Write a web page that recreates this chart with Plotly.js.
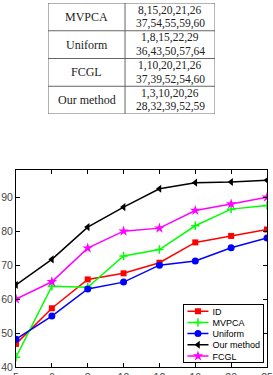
<!DOCTYPE html>
<html>
<head>
<meta charset="utf-8">
<script src="https://cdn.plot.ly/plotly-3.0.1.min.js"></script>
<style>
  html, body { margin: 0; padding: 0; background: #fff; }
  #chart { width: 273px; height: 375px; }
</style>
</head>
<body>
<div id="chart"></div>
<script>
// Number of selected bands (x axis categories)
const bandCounts = ['5', '6', '8', '10', '12', '16', '20', '25'];

// Accuracy (%) of each method
const idAcc      = [46.8, 57.3, 65.8, 67.6, 70.7, 76.7, 78.6, 80.5];
const mvpcaAcc   = [42.9, 63.8, 63.5, 72.7, 74.6, 81.6, 86.5, 87.6];
const uniformAcc = [48.2, 55.0, 63.0, 65.0, 70.0, 71.2, 75.1, 78.0];
const oursAcc    = [64.2, 71.7, 81.2, 87.1, 92.5, 94.3, 94.5, 95.0];
const fcglAcc    = [60.0, 65.1, 75.0, 80.0, 80.9, 86.1, 88.0, 90.0];

// Table of selected band indices per method (two lines per cell)
const tableMethods = ['MVPCA', 'Uniform', 'FCGL', 'Our method'];
const tableBands = [
  ['8,15,20,21,26', '37,54,55,59,60'],
  ['1,8,15,22,29', '36,43,50,57,64'],
  ['1,10,20,21,26', '37,39,52,54,60'],
  ['1,3,10,20,26', '28,32,39,52,59']
];

const series = [
  {name: 'ID',         y: idAcc,      color: '#ff0000', symbol: 'square',          size: 6},
  {name: 'MVPCA',      y: mvpcaAcc,   color: '#00ff00', symbol: 'cross-thin-open', size: 6},
  {name: 'Uniform',    y: uniformAcc, color: '#0000ff', symbol: 'circle',          size: 7},
  {name: 'Our method', y: oursAcc,    color: '#000000', symbol: 'triangle-left',   size: 7},
  {name: 'FCGL',       y: fcglAcc,    color: '#ff00ff', symbol: 'star',            size: 8}
];

const traces = series.map(s => ({
  type: 'scatter',
  mode: 'lines+markers',
  name: s.name,
  x: bandCounts,
  y: s.y,
  xaxis: 'x',
  yaxis: 'y',
  line: {color: s.color, width: 1.5},
  marker: {color: s.color, symbol: s.symbol, size: s.size,
           line: {color: s.color, width: s.symbol === 'cross-thin-open' ? 1.5 : 0}}
}));

// Table drawn on its own hidden axes: x in pixels across, y in rows
const colSplit = 77, tableW = 167;
const lineOffset = 0.24;
const shapes = [];
const annotations = [];
const nRows = tableMethods.length;
const gridLine = {color: '#666', width: 1};
shapes.push({type: 'rect', xref: 'x2', yref: 'y2', x0: 0, x1: tableW, y0: 0, y1: nRows, line: gridLine});
shapes.push({type: 'line', xref: 'x2', yref: 'y2', x0: colSplit, x1: colSplit, y0: 0, y1: nRows, line: gridLine});
for (let i = 1; i < nRows; i++) {
  shapes.push({type: 'line', xref: 'x2', yref: 'y2', x0: 0, x1: tableW, y0: i, y1: i, line: gridLine});
}
const nameFont = {family: 'Liberation Serif', size: 12, color: '#222'};
const bandFont = {family: 'Liberation Serif', size: 11.5, color: '#222'};
tableMethods.forEach((m, i) => {
  const yc = nRows - i - 0.5;
  annotations.push({xref: 'x2', yref: 'y2', x: colSplit / 2, y: yc, text: m,
    showarrow: false, font: nameFont, xanchor: 'center', yanchor: 'middle'});
  tableBands[i].forEach((line, j) => {
    annotations.push({xref: 'x2', yref: 'y2', x: (colSplit + tableW) / 2,
      y: yc + (j === 0 ? lineOffset : -lineOffset),
      text: line, showarrow: false, font: bandFont,
      xanchor: 'center', yanchor: 'middle'});
  });
});

const tickFont = {family: 'Liberation Sans, Arial, sans-serif', size: 10.5, color: '#444'};

const layout = {
  width: 273,
  height: 375,
  margin: {l: 16, r: 6, t: 3, b: 8},
  paper_bgcolor: '#fff',
  plot_bgcolor: '#fff',
  showlegend: true,
  xaxis: {
    type: 'category',
    domain: [0, 1],
    range: [0, bandCounts.length - 1],
    showline: true, linecolor: '#000', linewidth: 1, mirror: 'ticks',
    ticks: 'inside', ticklen: 4, tickcolor: '#000',
    showgrid: false, zeroline: false,
    tickfont: tickFont
  },
  yaxis: {
    domain: [0, 0.541],
    range: [40, 98],
    dtick: 10, tick0: 40,
    showline: true, linecolor: '#000', linewidth: 1, mirror: 'ticks',
    ticks: 'inside', ticklen: 4, tickcolor: '#000',
    showgrid: false, zeroline: false,
    tickfont: tickFont
  },
  xaxis2: {domain: [0.1275, 0.793], range: [0, tableW], visible: false, anchor: 'y2', fixedrange: true},
  yaxis2: {domain: [0.695, 1.0], range: [0, nRows], visible: false, anchor: 'x2', fixedrange: true},
  legend: {
    x: 0.988, y: 0.011, xanchor: 'right', yanchor: 'bottom',
    bgcolor: '#fff', bordercolor: '#000', borderwidth: 1,
    font: {family: 'Liberation Sans, Arial, sans-serif', size: 9, color: '#000'},
    itemwidth: 30, tracegroupgap: 0
  },
  shapes: shapes,
  annotations: annotations
};

// Compact legend layout: tighter rows and shorter symbol samples
const legendBox = {right: 264, bottom: 363, firstRow: 7.5, rowStep: 11.2,
                   padBottom: 7, lineStart: 4, lineLen: 21, textX: 29, padRight: 4};

function compactLegend(gd) {
  const leg = gd.querySelector('g.legend');
  if (!leg) return;
  const bg = leg.querySelector('rect.bg');
  const items = leg.querySelectorAll('g.traces');
  let maxText = 0;
  items.forEach((g, i) => {
    g.setAttribute('transform', `translate(0,${legendBox.firstRow + i * legendBox.rowStep})`);
    g.querySelectorAll('g.legendlines path').forEach(p =>
      p.setAttribute('d', `M${legendBox.lineStart},0h${legendBox.lineLen}`));
    const cx = legendBox.lineStart + legendBox.lineLen / 2;
    g.querySelectorAll('g.legendpoints path').forEach(p =>
      p.setAttribute('transform', `translate(${cx},0)`));
    const t = g.querySelector('text.legendtext');
    if (t) {
      t.setAttribute('x', legendBox.textX);
      t.querySelectorAll('tspan').forEach(ts => { if (ts.hasAttribute('x')) ts.setAttribute('x', legendBox.textX); });
      maxText = Math.max(maxText, t.getComputedTextLength());
    }
  });
  const w = legendBox.textX + maxText + legendBox.padRight;
  const h = legendBox.firstRow + (items.length - 1) * legendBox.rowStep + legendBox.padBottom;
  bg.setAttribute('x', 0.5);
  bg.setAttribute('y', 0.5);
  bg.setAttribute('width', w - 1);
  bg.setAttribute('height', h - 1);
  leg.setAttribute('transform', `translate(${legendBox.right - w},${legendBox.bottom - h})`);
}

Plotly.newPlot('chart', traces, layout, {displayModeBar: false, staticPlot: true}).then(compactLegend);
</script>
</body>
</html>
